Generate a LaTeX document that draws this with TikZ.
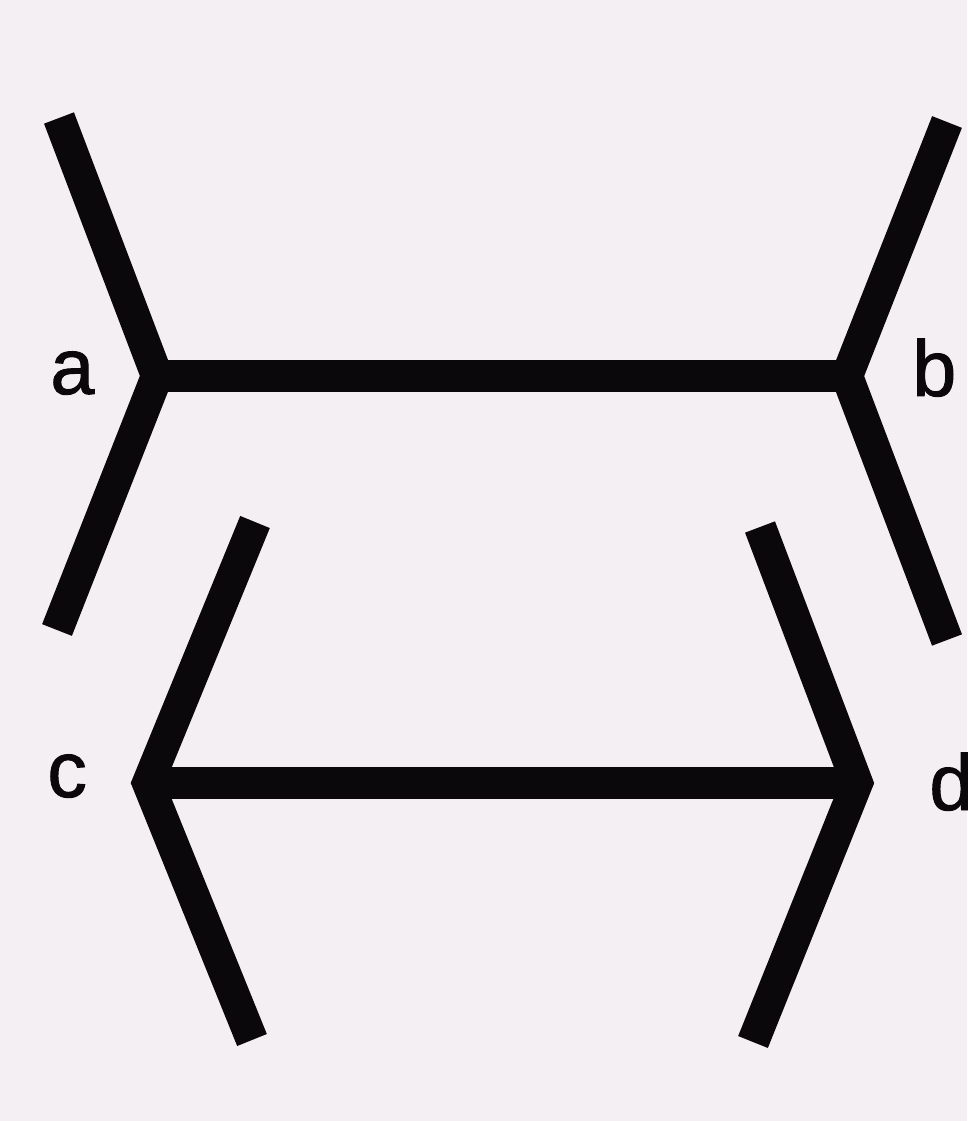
\documentclass[tikz,border=0pt]{standalone}
\usepackage{fontspec}
\setmainfont{Liberation Sans}[FakeBold=1.2]
\definecolor{paper}{RGB}{243,239,243}
\definecolor{ink}{RGB}{10,8,10}
\begin{document}
\begin{tikzpicture}[x=0.02cm,y=-0.02cm,
  bar/.style={draw=ink,line width=0.64cm,line cap=butt,line join=miter,miter limit=10},
  lbl/.style={inner sep=0pt,anchor=base west,text=ink,font=\fontsize{45}{54}\selectfont}]
\fill[paper] (0,0) rectangle (967,1121);
\useasboundingbox (0,0) rectangle (967,1121);
% top figure
\coordinate (va) at (157,376);
\coordinate (at) at (59,118);
\coordinate (ab) at (57,630);
\coordinate (vb) at (847,376);
\coordinate (bt) at (947,122);
\coordinate (bb) at (947,640);
% bottom figure
\coordinate (vc) at (148,783);
\coordinate (ct) at (255,522);
\coordinate (cb) at (252,1040);
\coordinate (vd) at (857,783);
\coordinate (dt) at (760,527);
\coordinate (db) at (753,1042);
\draw[bar] (at) -- (va) -- (ab);
\draw[bar] (bt) -- (vb) -- (bb);
\draw[bar] (va) -- (vb);
\draw[bar] (ct) -- (vc) -- (cb);
\draw[bar] (dt) -- (vd) -- (db);
\draw[bar] (vc) -- (vd);
\node[lbl] (la) at (50,394) {a};
\node[lbl] (lb) at (912,396) {b};
\node[lbl] (lc) at (47,797) {c};
\node[lbl] (ld) at (929,810) {d};
\end{tikzpicture}
\end{document}
